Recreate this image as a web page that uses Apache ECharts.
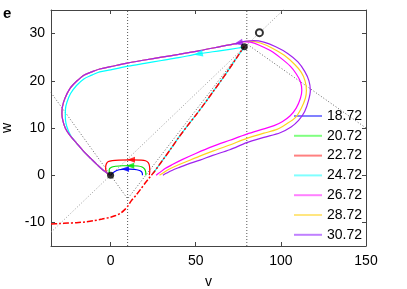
<!DOCTYPE html>
<html><head><meta charset="utf-8">
<script src="https://cdn.jsdelivr.net/npm/echarts@6/dist/echarts.min.js"></script>
<style>html,body{margin:0;padding:0;background:#fff}#c{width:407px;height:289px}</style>
</head><body><div id="c"></div><script>
// ---- data ----
const vTicks = [0, 50, 100, 150];
const wTicks = [-10, 0, 10, 20, 30];
const seriesNames = ['18.72', '20.72', '22.72', '24.72', '26.72', '28.72', '30.72'];

const traj1872 = [[18.72,0],[18.6,0.45],[18,0.8],[16.5,1.05],[14,1.22],[11,1.3],[8,1.3],[5,1.15],[3,0.9],[1.5,0.55],[0.5,0.2],[0,0]];
const traj2072 = [[20.72,0],[20.6,0.7],[20,1.3],[18.5,1.75],[16,1.95],[12,2.0],[7,2.0],[3,1.9],[0.5,1.7],[-0.8,1.2],[-0.8,0.6],[-0.3,0.2],[0,0]];
const traj2272 = [[22.72,0],[23.0,0.8],[22.9,1.8],[22.2,2.6],[20.5,3.05],[18,3.2],[12,3.25],[5,3.2],[1,3.1],[-1.3,2.9],[-2.5,2.4],[-2.9,1.7],[-2.7,0.9],[-1.8,0.3],[0,0]];
const traj2472Rise = [[24.72,0.35],[26,0.9],[28,1.9],[31,3.4],[35,5.4],[40,8.0],[45,10.4],[50,12.7],[55,15.1],[60,17.6],[65,20.1],[70,22.7],[75,25.4],[78.3,27.0]];
const traj2472Back = [[77,27.05],[75,26.95],[65,26.4],[51.5,25.7],[40,24.9],[30,24.3],[20,23.7],[10.3,23.1],[0,22.3],[-6.4,21.9],[-11,21.2],[-15.7,20.4],[-20,19.0],[-23.5,17.3],[-25.6,15.5],[-26.5,14.0],[-26.6,12.5],[-26.2,11.0],[-25,9.6],[-22.8,8.0],[-20,6.8],[-15.7,5.0],[-11.5,3.5],[-7.8,2.2],[-4.5,1.1],[-1.8,0.4],[0,0]];
const traj2672Out = [[26.72,0],[29,0.6],[32,1.4],[36,2.2],[42,3.3],[50,4.6],[60,6.1],[70,7.4],[80,8.7],[90,9.8],[96,10.5],[101,11.4],[105.5,12.6],[109,14.2],[111.5,16.3],[112.3,18],[111.5,19.8],[109,21.5],[105.5,23.1],[100,24.8],[93.8,26.4],[87,27.6],[82,28.2],[78,28.3]];
const traj2872Out = [[28.72,0],[31,0.5],[34,1.2],[38,1.9],[44,2.8],[52,4.0],[60,5.1],[70,6.4],[80,7.8],[90,8.9],[97.7,9.7],[103,10.8],[108.5,12.2],[112,14.2],[114.4,16.3],[115,18],[114.2,20],[112,21.8],[108,23.5],[102,25.4],[95,26.9],[88,28],[82,28.4],[78,28.3]];
const traj3072Out = [[30.72,0],[33,0.45],[36,1.0],[40,1.6],[45,2.3],[52.5,3.2],[60,4.2],[70,5.4],[80,6.9],[90,8.0],[99.6,9.0],[106,10.2],[110.4,11.6],[114,13.5],[116.3,15.9],[117.3,18],[116.5,20],[114,22],[110,24],[104,25.8],[97,27.2],[90,28.2],[84,28.5],[80,28.4],[78,28.3]];
const returnPath = [[75,28.0],[65,27.3],[52.5,26.4],[40,25.6],[30,25.0],[20,24.4],[10.3,23.8],[0,23.0],[-6.4,22.5],[-11,21.9],[-15.7,21.2],[-20,19.9],[-24,18.3],[-26.8,16.3],[-28.3,14.5],[-28.6,13],[-28,11.5],[-26.5,9.9],[-24,8.5],[-20,6.8],[-15.7,5.0],[-11.5,3.5],[-7.8,2.2],[-4.5,1.1],[-1.8,0.4],[0,0]];

const separatrix = [[-35,-10.35],[-30,-10.25],[-25,-10.15],[-20,-10.05],[-15,-9.9],[-10,-9.65],[-5,-9.3],[0,-8.9],[3,-8.55],[6,-8.0],[8,-7.4],[10,-6.6],[12,-5.5],[15,-4.2],[18,-2.8],[20,-1.8],[22,-0.9],[24,0],[26,0.9],[28,1.9],[31,3.4],[35,5.4],[40,8.0],[45,10.4],[50,12.7],[55,15.1],[60,17.6],[65,20.1],[70,22.7],[75,25.4],[78.5,27.3]];
const wNullcline = [[-35,-12.08],[150,51.75]];
const vNullcline = [[-35,17.5],[10,-5],[80,27.8],[150,10]];
const vLine10 = [[10,-15],[10,35]];
const vLine80 = [[80,-15],[80,35]];
const fixedPoints = [[0,0],[78.5,27.2]];
const openPoint = [[87.4,30.2]];
const arrowPoints = [[8.5,1.3],[11.5,2.0],[12,3.25],[51.5,25.7],null,null,[75,28.0]];

// ---- styles ----
const curveColors = ['#0000ff','#00e000','#ff0000','#00ffff','#ff00ff','#ffd21f','#a020f0'];
const legendColors = ['#8080ff','#80ff80','#ff8080','#80ffff','#ff80ff','#ffe680','#c080ff'];
const arrowRot = [90, 90, 90, 100, 0, 0, 101];
const font = 'Liberation Sans, Arial, sans-serif';

const trajData = [
  traj1872, traj2072, traj2272,
  traj2472Rise.concat(traj2472Back),
  traj2672Out.concat(returnPath),
  traj2872Out.concat(returnPath),
  traj3072Out.concat(returnPath)
];

const series = [];
function guide(data, color) {
  series.push({type:'line', data, showSymbol:false, symbol:'none', silent:true,
    lineStyle:{color, width:1, type:[1,2]}, z:1});
}
guide(vLine10, '#555');
guide(vLine80, '#555');
guide(wNullcline, '#999');
guide(vNullcline, '#666');

seriesNames.forEach((n, i) => {
  series.push({type:'line', name:n, data:trajData[i], symbol:'none', showSymbol:false,
    smooth:0.3, lineStyle:{color:curveColors[i], width:1.2}, itemStyle:{color:curveColors[i]}, z:2+i});
});
series.push({type:'line', data:separatrix, symbol:'none', showSymbol:false, smooth:0.3,
  lineStyle:{color:'#ff0000', width:1.5, type:[6,2,2,2]}, z:10});
arrowPoints.forEach((p, i) => {
  if (!p) return;
  series.push({type:'scatter', data:[p], symbol:'triangle', symbolRotate:arrowRot[i],
    symbolSize: i >= 3 ? [7,9] : [6,8], itemStyle:{color:curveColors[i]}, z:12, silent:true});
});
series.push({type:'scatter', data:fixedPoints, symbol:'circle', symbolSize:7, itemStyle:{color:'#000'}, z:13});
series.push({type:'scatter', data:openPoint, symbol:'emptyCircle', symbolSize:7,
  itemStyle:{color:'#000', borderWidth:1}, z:13});

const axisLine = {show:true, onZero:false, lineStyle:{color:'#444', width:1}};

const option = {
  animation:false,
  backgroundColor:'#fff',
  textStyle:{fontFamily:font},
  graphic:[{type:'text', left:3, top:6, style:{text:'e', font:'bold 15px ' + font, fill:'#000'}}],
  grid:{left:51, top:10, width:315, height:236, containLabel:false, outerBoundsMode:'none'},
  legend:{
    orient:'vertical', left:288, top:104, itemWidth:28, itemHeight:14, itemGap:5.8,
    textStyle:{fontSize:14, color:'#000', fontFamily:font},
    lineStyle:{width:2, opacity:0.5},
    data: seriesNames.map((n, i) => ({name:n, lineStyle:{color:legendColors[i], width:2, opacity:1},
      itemStyle:{color:legendColors[i], opacity:0, borderWidth:0}}))
  },
  xAxis:[
    {type:'value', min:-35, max:150, position:'bottom', name:'v', nameLocation:'middle', nameGap:29,
      nameTextStyle:{fontSize:14, color:'#000', fontFamily:font},
      axisLine, splitLine:{show:false},
      axisTick:{show:true, inside:true, length:4, customValues:vTicks, lineStyle:{color:'#444'}},
      axisLabel:{show:true, customValues:vTicks, fontSize:14, color:'#000', margin:8, fontFamily:font}},
    {type:'value', min:-35, max:150, position:'top', axisLine, splitLine:{show:false},
      axisTick:{show:true, inside:true, length:4, customValues:vTicks, lineStyle:{color:'#444'}},
      axisLabel:{show:false}}
  ],
  yAxis:[
    {type:'value', min:-15, max:35, position:'left', name:'w', nameLocation:'middle', nameGap:28, nameRotate:90,
      nameTextStyle:{fontSize:14, color:'#000', fontFamily:font},
      axisLine, splitLine:{show:false},
      axisTick:{show:true, inside:true, length:4, customValues:wTicks, lineStyle:{color:'#444'}},
      axisLabel:{show:true, customValues:wTicks, fontSize:14, color:'#000', margin:6, fontFamily:font}},
    {type:'value', min:-15, max:35, position:'right', axisLine, splitLine:{show:false},
      axisTick:{show:true, inside:true, length:4, customValues:wTicks, lineStyle:{color:'#444'}},
      axisLabel:{show:false}}
  ],
  series
};
const chart = echarts.init(document.getElementById('c'), null, {renderer:'canvas'});
chart.setOption(option);
</script></body></html>
